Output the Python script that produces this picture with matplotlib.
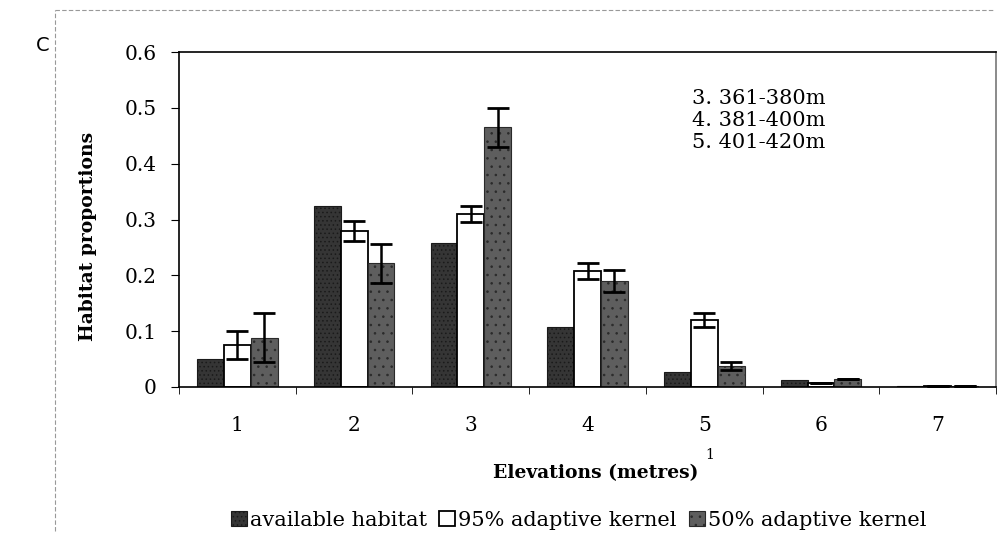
import matplotlib.pyplot as plt
import numpy as np

plt.rcParams['font.family'] = ['DejaVu Serif', 'Liberation Serif']
plt.rcParams['hatch.linewidth'] = 0.6

### data
elevations = ['1', '2', '3', '4', '5', '6', '7']
available = [0.050, 0.325, 0.258, 0.107, 0.027, 0.012, 0.002]
kernel95 = [0.075, 0.280, 0.310, 0.208, 0.120, 0.008, 0.001]
kernel95_err = [0.025, 0.018, 0.015, 0.014, 0.012, 0.0, 0.0]
kernel50 = [0.088, 0.222, 0.465, 0.190, 0.038, 0.015, 0.002]
kernel50_err = [0.044, 0.035, 0.035, 0.020, 0.007, 0.0, 0.0]
range_notes = ['3. 361-380m', '4. 381-400m', '5. 401-420m']
legend_labels = ['available habitat', '95% adaptive kernel', '50% adaptive kernel']

x = np.arange(len(elevations))
w = 0.23

fig = plt.figure(figsize=(10.03, 5.42), dpi=100)
ax = fig.add_axes([0.1785, 0.286, 0.8146, 0.618])

b1 = ax.bar(x - w, available, w, color='#353535', edgecolor='#1a1a1a', lw=0.8,
            hatch='....', label=legend_labels[0])
b2 = ax.bar(x, kernel95, w, color='white', edgecolor='black', lw=1.3,
            label=legend_labels[1])
b3 = ax.bar(x + w, kernel50, w, color='#5e5e5e', edgecolor='#2a2a2a', lw=0.8,
            hatch='..', label=legend_labels[2])

ax.errorbar(x, kernel95, yerr=kernel95_err, fmt='none', ecolor='black',
            elinewidth=1.8, capsize=8, capthick=2)
ax.errorbar(x + w, kernel50, yerr=kernel50_err, fmt='none', ecolor='black',
            elinewidth=1.8, capsize=8, capthick=2)

ax.set_xlim(-0.5, len(elevations) - 0.5)
ax.set_ylim(0, 0.6)
ax.set_yticks(np.arange(0, 0.61, 0.1))
ax.set_yticklabels(['0', '0.1', '0.2', '0.3', '0.4', '0.5', '0.6'], fontsize=14.5)
ax.set_xticks(x)
ax.set_xticklabels(elevations, fontsize=14.5)
ax.set_xticks(np.arange(-0.5, len(elevations), 1), minor=True)
ax.tick_params(axis='x', which='major', length=0, pad=21)
ax.tick_params(axis='x', which='minor', length=5, direction='out')
ax.tick_params(axis='y', length=6, direction='out', pad=10)
for s in ax.spines.values():
    s.set_linewidth(1.2)
ax.spines['right'].set_color('#777777')

ax.set_ylabel('Habitat proportions', fontsize=13.5, fontweight='bold')
ax.yaxis.set_label_coords(-0.1, 0.45)
ax.set_xlabel('Elevations (metres)', fontsize=13.5, fontweight='bold')
ax.xaxis.set_label_coords(0.51, -0.23)

# elevation range notes, top right of the plot
fig.text(0.69, 0.7777, '\n'.join(range_notes), fontsize=15, va='center',
         ha='left', linespacing=1.22)

fig.text(0.708, 0.160, '1', fontsize=10, ha='center', va='center')
fig.text(0.036, 0.905, 'C', fontsize=14, family='DejaVu Sans', ha='left')

# faint scan frame lines
fig.add_artist(plt.Line2D([0.055, 0.99], [0.982, 0.982], color='#999999', lw=0.8, ls=(0, (4, 2))))
fig.add_artist(plt.Line2D([0.055, 0.055], [0.02, 0.982], color='#999999', lw=0.8, ls=(0, (4, 2))))

fig.legend(handles=[b1, b2, b3], loc='center', bbox_to_anchor=(0.577, 0.04),
           ncol=3, frameon=False, fontsize=15, handlelength=0.75, handleheight=0.75,
           handletextpad=0.15, columnspacing=0.6)

fig.savefig('out.png', dpi=100)
